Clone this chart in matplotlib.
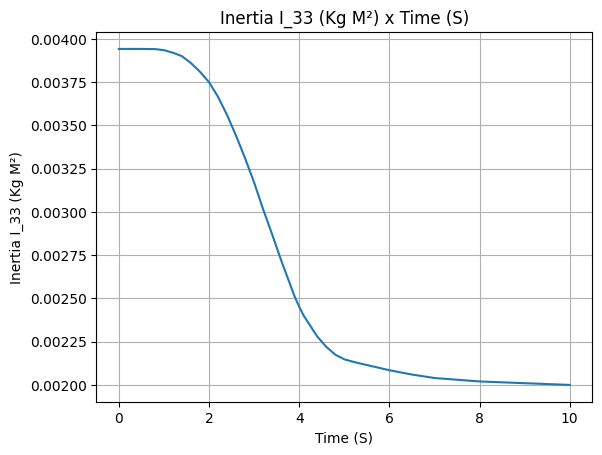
import matplotlib
matplotlib.use('Agg')
import matplotlib.pyplot as plt

# values
time = [0, 0.5, 0.8, 1.0, 1.2, 1.4, 1.6, 1.8, 2.0, 2.2, 2.4, 2.5, 2.6, 2.8,
        3.0, 3.2, 3.4, 3.6, 3.7, 3.8, 3.9, 4.0, 4.1, 4.2, 4.4, 4.6, 4.8, 5.0,
        5.25, 5.5, 6.0, 6.5, 7.0, 7.5, 8.0, 9.0, 10.0]
inertia = [0.003942, 0.003942, 0.003941, 0.003935, 0.00392, 0.00390, 0.00386,
           0.00381, 0.00375, 0.003665, 0.00356, 0.0035, 0.00344, 0.00331,
           0.00317, 0.003015, 0.00287, 0.00272, 0.00265, 0.00258, 0.00251,
           0.002452, 0.0024, 0.00236, 0.00228, 0.00222, 0.002175, 0.002148,
           0.00213, 0.002115, 0.002085, 0.00206, 0.00204, 0.00203, 0.00202,
           0.00201, 0.00200]

plt.figure(figsize=(6.4, 4.8), dpi=100)
plt.plot(time, inertia)
plt.xlabel('Time (S)')
plt.ylabel('Inertia I_33 (Kg M²)')
plt.title('Inertia I_33 (Kg M²) x Time (S)')
plt.grid(True)
plt.savefig('out.png', bbox_inches='tight')
